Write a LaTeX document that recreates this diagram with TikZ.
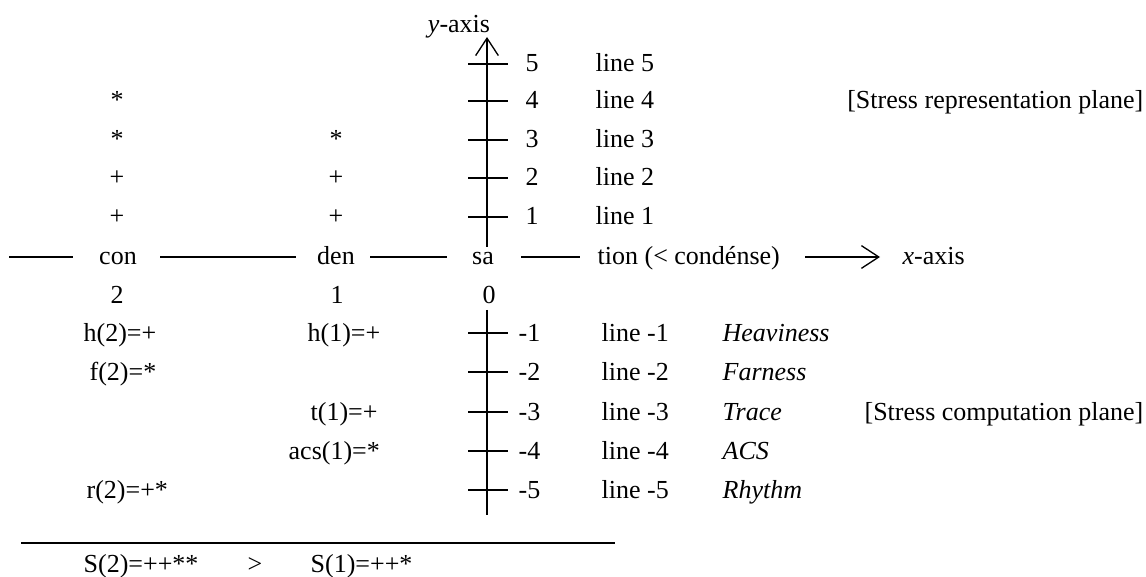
\documentclass[tikz,border=0pt]{standalone}
\usepackage{fontspec}
\setmainfont{Liberation Serif}
\usetikzlibrary{arrows.meta}
\begin{document}
\begin{tikzpicture}[x=0.75pt,y=-0.75pt,line width=1pt,
  txt/.style={inner sep=0pt,anchor=base,font=\fontsize{19.5pt}{23pt}\selectfont},
  ltxt/.style={txt,anchor=base west},
  rtxt/.style={txt,anchor=base east},
  axisline/.style={line width=1pt},
  barb/.style={-{Straight Barb[length=13pt,width=17pt]}}]
\useasboundingbox (0,0) rectangle (1146,577);
% y-axis
\coordinate (ytop) at (487,37);
\coordinate (yup) at (487,247);
\coordinate (ylo) at (487,310);
\coordinate (ybot) at (487,515);
\draw[axisline,barb] (yup) -- (ytop);
\draw[axisline] (ylo) -- (ybot);
\node[txt] (ylab) at (459,33) {\textit{y}-axis};
% positive ticks
\foreach \v/\y in {5/64,4/101,3/140,2/178,1/217}{
  \draw[axisline] (468,\y) -- (508,\y);
  \node[ltxt] (n\v) at (525,\y+8) {\v};
  \node[ltxt] (l\v) at (595,\y+8) {line \v};
}
% negative ticks
\foreach \v/\y/\w in {-1/333/Heaviness,-2/372/Farness,-3/412/Trace,-4/451/ACS,-5/490/Rhythm}{
  \draw[axisline] (468,\y) -- (508,\y);
  \node[ltxt] (n\v) at (518,\y+8) {\v};
  \node[ltxt] (l\v) at (601,\y+8) {line \v};
  \node[ltxt] (w\v) at (722,\y+8) {\textit{\w}};
}
\node[rtxt] (rep) at (1144,109) {[Stress representation plane]};
\node[rtxt] (comp) at (1144,420) {[Stress computation plane]};
% stars and pluses
\node[txt] (a4) at (117,109) {*};
\node[txt] (a3) at (117,148) {*};
\node[txt] (a2) at (117,186) {+};
\node[txt] (a1) at (117,225) {+};
\node[txt] (b3) at (336,148) {*};
\node[txt] (b2) at (336,186) {+};
\node[txt] (b1) at (336,225) {+};
% x-axis row
\node[txt] (con) at (118,265) {con};
\node[txt] (den) at (336,265) {den};
\node[txt] (sa) at (483,265) {sa};
\node[ltxt] (tion) at (597,265) {tion (< condénse)};
\node[ltxt] (xlab) at (902,265) {\textit{x}-axis};
\coordinate (s1a) at (9,257);   \coordinate (s1b) at (73,257);
\coordinate (s2a) at (160,257); \coordinate (s2b) at (296,257);
\coordinate (s3a) at (370,257); \coordinate (s3b) at (447,257);
\coordinate (s4a) at (521,257); \coordinate (s4b) at (580,257);
\coordinate (s5a) at (805,257); \coordinate (s5b) at (880,257);
\draw[axisline] (s1a) -- (s1b);
\draw[axisline] (s2a) -- (s2b);
\draw[axisline] (s3a) -- (s3b);
\draw[axisline] (s4a) -- (s4b);
\draw[axisline,barb] (s5a) -- (s5b);
% syllable numbers
\node[txt] (p2) at (117,304) {2};
\node[txt] (p1) at (337,304) {1};
\node[txt] (p0) at (489,304) {0};
% computation values
\node[ltxt] (h2) at (83,341) {h(2)=+};
\node[ltxt] (f2) at (89,380) {f(2)=*};
\node[ltxt] (r2) at (86,498) {r(2)=+*};
\node[ltxt] (h1) at (307,341) {h(1)=+};
\node[ltxt] (t1) at (310,420) {t(1)=+};
\node[ltxt] (acs1) at (288,459) {acs(1)=*};
% bottom
\coordinate (bl) at (21,543);
\coordinate (br) at (615,543);
\draw[axisline] (bl) -- (br);
\node[ltxt] (S2) at (83,572) {S(2)=++**};
\node[ltxt] (gt) at (247,572) {>};
\node[ltxt] (S1) at (310,572) {S(1)=++*};
\end{tikzpicture}
\end{document}
